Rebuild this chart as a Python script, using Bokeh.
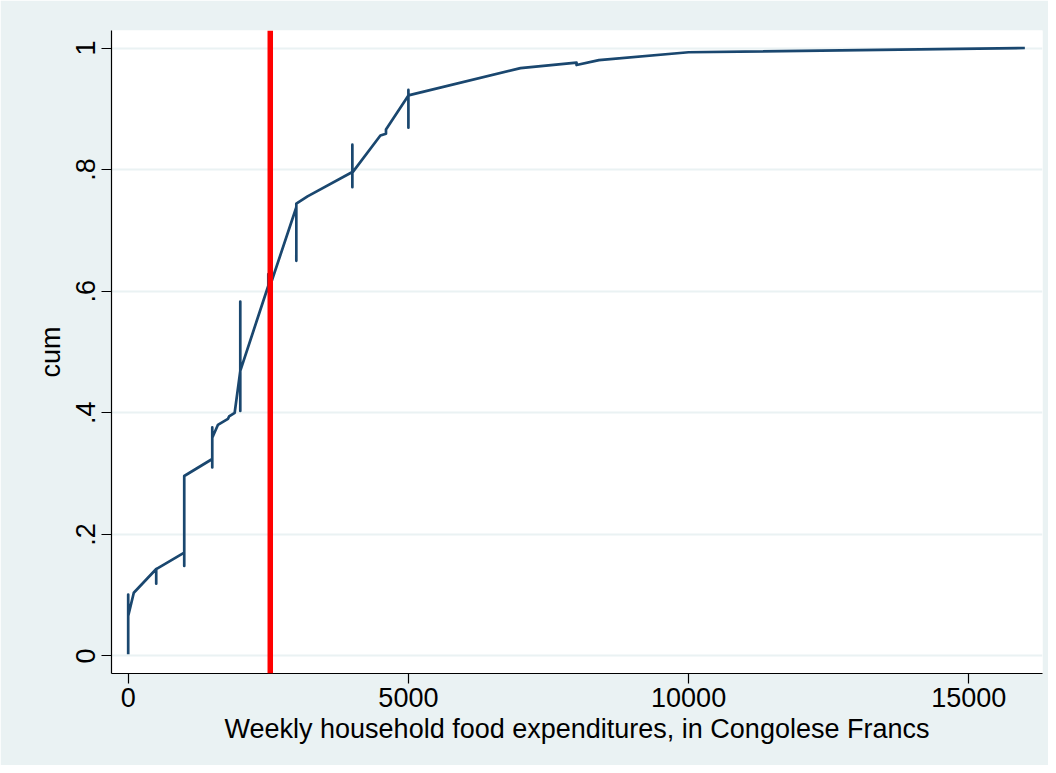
from bokeh.plotting import figure
from bokeh.models import Range1d, FixedTicker, Span
from bokeh.embed import file_html
from bokeh.resources import INLINE

# Data: cumulative share vs weekly household food expenditure (path as drawn, with ties)
expenditure = [0, 0, 0, 100, 500, 500, 500, 1000, 1000, 1000,
               1500, 1500, 1500, 1500, 1600, 1780, 1800, 1900,
               2000, 2000, 2000, 2000, 2500, 2500, 2500,
               3000, 3000, 3000, 3200,
               4000, 4000, 4000, 4000, 4500, 4600, 4600,
               5000, 5000, 5000, 5000, 7000, 8000, 8000, 8400, 10000, 16000]
cum = [0.003, 0.101, 0.066, 0.104, 0.143, 0.119, 0.143, 0.170, 0.148, 0.296,
       0.324, 0.310, 0.376, 0.359, 0.380, 0.390, 0.394, 0.400,
       0.469, 0.583, 0.403, 0.469, 0.609, 0.628, 0.600,
       0.738, 0.650, 0.744, 0.756,
       0.796, 0.771, 0.841, 0.795, 0.856, 0.859, 0.866,
       0.922, 0.869, 0.931, 0.922, 0.967, 0.976, 0.972, 0.980, 0.993, 1.0]

xline_value = 2535

x_ticks = [0, 5000, 10000, 15000]
x_tick_labels = ["0", "5000", "10000", "15000"]
y_ticks = [0, 0.2, 0.4, 0.6, 0.8, 1.0]
y_tick_labels = ["0", ".2", ".4", ".6", ".8", "1"]

BG = "#EAF2F3"
NAVY = "#1A476F"
FONT = "Liberation Sans"

p = figure(width=1048, height=765,
           x_range=Range1d(-298, 16315), y_range=Range1d(-0.0288, 1.0288),
           output_backend="svg", toolbar_location=None,
           min_border_left=111, min_border_right=6,
           min_border_top=30, min_border_bottom=92)
p.background_fill_color = "white"
p.border_fill_color = BG
p.outline_line_color = None

p.xgrid.visible = False
p.ygrid.grid_line_color = BG
p.ygrid.grid_line_width = 2

p.line(expenditure, cum, line_color=NAVY, line_width=2.7, line_join="round")

p.add_layout(Span(location=xline_value, dimension="height",
                  line_color="#FF0000", line_width=5.5))

# x axis
xa = p.xaxis[0]
xa.ticker = FixedTicker(ticks=x_ticks)
xa.major_label_overrides = {t: l for t, l in zip(x_ticks, x_tick_labels)}
xa.axis_label = "Weekly household food expenditures, in Congolese Francs"
xa.minor_tick_line_color = None
xa.major_tick_out = 10
xa.major_tick_in = 0

# y axis
ya = p.yaxis[0]
ya.ticker = FixedTicker(ticks=y_ticks)
ya.major_label_overrides = {t: l for t, l in zip(y_ticks, y_tick_labels)}
ya.axis_label = "cum"
ya.minor_tick_line_color = None
ya.major_tick_out = 10
ya.major_tick_in = 0
ya.major_label_orientation = "vertical"

for ax in (xa, ya):
    ax.axis_line_color = "black"
    ax.axis_line_width = 1.2
    ax.major_tick_line_color = "black"
    ax.major_tick_line_width = 1.2
    ax.major_label_text_font = FONT
    ax.major_label_text_font_size = "27px"
    ax.major_label_text_color = "black"
    ax.axis_label_text_font = FONT
    ax.axis_label_text_font_size = "27px"
    ax.axis_label_text_font_style = "normal"
    ax.axis_label_text_color = "black"

xa.major_label_standoff = 4
xa.axis_label_standoff = 4
ya.major_label_standoff = 6
ya.axis_label_standoff = 8

open("out.html", "w").write(file_html(p, INLINE))
